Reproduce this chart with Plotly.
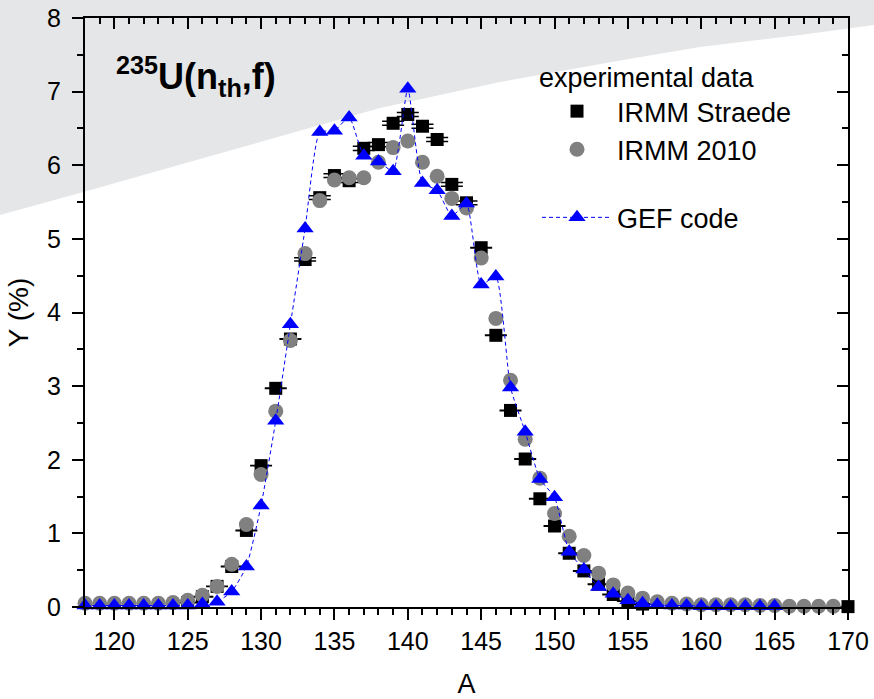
import plotly.graph_objects as go

# ---------------- data ----------------
A_gef = list(range(118, 166))
Y_gef = [0.02, 0.02, 0.02, 0.02, 0.02, 0.02, 0.02, 0.02, 0.04, 0.07,
         0.21, 0.55, 1.38, 2.53, 3.84, 5.14, 6.45, 6.47, 6.65, 6.13,
         6.05, 5.92, 7.04, 5.76, 5.66, 5.31, 5.48, 4.38, 4.49, 2.98,
         2.38, 1.74, 1.49, 0.75, 0.51, 0.27, 0.18, 0.09, 0.05, 0.03,
         0.02, 0.02, 0.01, 0.01, 0.01, 0.01, 0.01, 0.01]

A_str = [125, 126, 127, 128, 129, 130, 131, 132, 133, 134, 135, 136, 137,
         138, 139, 140, 141, 142, 143, 144, 145, 146, 147, 148, 149, 150,
         151, 152, 153, 154, 155, 156, 170]
Y_str = [0.06, 0.14, 0.28, 0.55, 1.04, 1.92, 2.97, 3.64, 4.72, 5.56, 5.86,
         5.79, 6.23, 6.28, 6.57, 6.69, 6.53, 6.35, 5.74, 5.49, 4.88, 3.69,
         2.67, 2.01, 1.47, 1.10, 0.73, 0.49, 0.31, 0.17, 0.08, 0.04, 0.005]
E_str = [0.003, 0.003, 0.003, 0.003, 0.003, 0.003, 0.003, 0.003, 0.022,
         0.025, 0.025, 0.025, 0.028, 0.028, 0.028, 0.028, 0.028, 0.028,
         0.025, 0.025, 0.003, 0.003, 0.003, 0.003, 0.003, 0.003, 0.003,
         0.003, 0.003, 0.003, 0.003, 0.003, 0.0]

A_2010 = list(range(118, 170))
Y_2010 = [0.05, 0.05, 0.05, 0.05, 0.05, 0.05, 0.06, 0.09, 0.16, 0.28,
          0.58, 1.12, 1.80, 2.66, 3.62, 4.80, 5.52, 5.80, 5.83, 5.83,
          6.04, 6.24, 6.33, 6.04, 5.85, 5.55, 5.42, 4.74, 3.92, 3.08,
          2.28, 1.75, 1.27, 0.96, 0.70, 0.46, 0.30, 0.19, 0.12, 0.07,
          0.05, 0.04, 0.03, 0.03, 0.03, 0.03, 0.02, 0.02, 0.01, 0.01,
          0.01, 0.01]

x_ticks = [120, 125, 130, 135, 140, 145, 150, 155, 160, 165, 170]
y_ticks = [0, 1, 2, 3, 4, 5, 6, 7, 8]

# ---------------- layout geometry ----------------
W, H = 874, 699
L, R, T, B = 85, 26, 18, 92
PW, PH = W - L - R, H - T - B
FONT = "Liberation Sans, Arial, sans-serif"


def px2paper(px, py):
    return (px - L) / PW, (H - B - py) / PH


# grey decorative background band (top-left)
edge = [(874, 25), (800, 35), (700, 47), (623, 60), (500, 82), (380, 108),
        (200, 159), (80, 193), (0, 215)]
path_pts = [(0, 0), (874, 0)] + edge
path = ""
for i, (px, py) in enumerate(path_pts):
    xp, yp = px2paper(px, py)
    path += ("M" if i == 0 else "L") + f"{xp:.4f},{yp:.4f} "
path += "Z"

fig = go.Figure()

fig.add_trace(go.Scatter(
    x=A_str, y=Y_str, mode="markers", name="IRMM Straede",
    legendgroup="exp",
    marker=dict(symbol="square", size=13, color="black"),
    error_y=dict(type="data", array=E_str, width=11, thickness=1.5,
                 color="black"),
    cliponaxis=False))

fig.add_trace(go.Scatter(
    x=A_2010, y=Y_2010, mode="markers", name="IRMM 2010",
    legendgroup="exp",
    marker=dict(symbol="circle", size=15, color="#808080"),
    cliponaxis=False))

fig.add_trace(go.Scatter(
    x=A_gef, y=Y_gef, mode="lines+markers", name="GEF code",
    legendgroup="gef",
    line=dict(color="#0000ff", width=1, dash="4px,3px", shape="spline",
              smoothing=0.5),
    marker=dict(symbol="triangle-up", size=15, color="#0000ff"),
    cliponaxis=False))

# dummy trace for mirrored (inside-tick) top/right axes
fig.add_trace(go.Scatter(x=[None], y=[None], xaxis="x2", yaxis="y2",
                         showlegend=False, hoverinfo="skip"))

axis_common = dict(showline=True, linecolor="black", linewidth=2,
                   showgrid=False, zeroline=False, tickcolor="black",
                   tickwidth=1.5, ticklen=11, automargin=False)

fig.update_layout(
    width=W, height=H,
    margin=dict(l=L, r=R, t=T, b=B),
    paper_bgcolor="white", plot_bgcolor="rgba(0,0,0,0)",
    font=dict(family=FONT, color="black", size=25),
    shapes=[dict(type="path", path=path, xref="paper", yref="paper",
                 fillcolor="#e5e6e8", line=dict(width=0), layer="below")],
    xaxis=dict(range=[118, 170], tickvals=x_ticks, ticks="outside",
               tickfont=dict(size=25), ticklabelstandoff=0,
               minor=dict(dtick=1, tick0=118, ticks="outside", ticklen=6,
                          tickwidth=1.5, tickcolor="black"),
               title=dict(text="A", font=dict(size=27), standoff=26),
               **axis_common),
    yaxis=dict(range=[0, 8], tickvals=y_ticks, ticks="outside",
               tickfont=dict(size=25), ticklabelstandoff=6,
               minor=dict(dtick=0.5, tick0=0, ticks="outside", ticklen=6,
                          tickwidth=1.5, tickcolor="black"),
               title=dict(text="Y (%)", font=dict(size=28), standoff=10),
               **axis_common),
    xaxis2=dict(range=[118, 170], overlaying="x", side="top", anchor="y2",
                tickvals=x_ticks, ticks="inside", showticklabels=False,
                minor=dict(dtick=1, tick0=118, ticks="inside", ticklen=6,
                           tickwidth=1.5, tickcolor="black"),
                **axis_common),
    yaxis2=dict(range=[0, 8], overlaying="y", side="right", anchor="x2",
                tickvals=y_ticks, ticks="inside", showticklabels=False,
                minor=dict(dtick=0.5, tick0=0, ticks="inside", ticklen=6,
                           tickwidth=1.5, tickcolor="black"),
                **axis_common),
    legend=dict(x=(537 - L) / PW, y=(H - B - 52) / PH, xanchor="left",
                yanchor="top", bgcolor="rgba(0,0,0,0)", borderwidth=0,
                font=dict(size=27), itemwidth=70, tracegroupgap=30,
                traceorder="grouped",
                title=dict(text="experimental data", font=dict(size=27))),
    showlegend=True,
)

tx, ty = px2paper(114, 76)
fig.add_annotation(text="<b><sup>235</sup>U(n<sub>th</sub>,f)</b>",
                   x=tx, y=ty, xref="paper", yref="paper",
                   xanchor="left", yanchor="middle", showarrow=False,
                   font=dict(size=36, family=FONT, color="black"))

fig.write_html("out.html")
